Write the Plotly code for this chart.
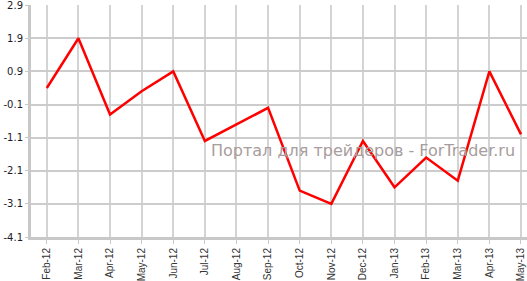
import plotly.graph_objects as go

months = ["Feb-12", "Mar-12", "Apr-12", "May-12", "Jun-12", "Jul-12", "Aug-12", "Sep-12",
          "Oct-12", "Nov-12", "Dec-12", "Jan-13", "Feb-13", "Mar-13", "Apr-13", "May-13"]
values = [0.4, 1.9, -0.4, 0.3, 0.9, -1.2, -0.7, -0.2,
          -2.7, -3.1, -1.2, -2.6, -1.7, -2.4, 0.9, -1.0]
y_ticks = [-4.1, -3.1, -2.1, -1.1, -0.1, 0.9, 1.9, 2.9]
watermark = "Портал для трейдеров - ForTrader.ru"

fig = go.Figure()
fig.add_trace(go.Scatter(x=list(range(len(months))), y=values, mode="lines",
                         line=dict(color="#ff0000", width=2.5), hoverinfo="skip"))

fig.update_layout(
    width=527, height=281,
    margin=dict(l=31, r=0, t=3, b=42),
    paper_bgcolor="white", plot_bgcolor="white",
    showlegend=False,
    font=dict(family="DejaVu Sans", size=10, color="#1a1a2a"),
    xaxis=dict(
        tickmode="array", tickvals=list(range(len(months))), ticktext=months,
        range=[-0.5, 15.19], tickangle=-90,
        tickfont=dict(family="Liberation Sans", size=10, color="#333333"),
        showgrid=True, gridcolor="#d4d4d4", gridwidth=1.5,
        showline=True, linecolor="#c8c8c8", linewidth=3,
        ticks="outside", ticklen=4, tickcolor="#c8c8c8",
        zeroline=False, fixedrange=True,
    ),
    yaxis=dict(
        tickmode="array", tickvals=y_ticks, ticktext=[f"{v:.1f}" for v in y_ticks],
        range=[-4.1, 2.905], ticklabeloverflow="allow",
        showgrid=True, gridcolor="#cccccc", gridwidth=1.5,
        showline=True, linecolor="#c8c8c8", linewidth=3,
        ticks="outside", ticklen=3, tickcolor="#c8c8c8",
        zeroline=False, fixedrange=True,
    ),
    annotations=[dict(
        text=watermark, xref="paper", yref="paper", x=0.67, y=0.375,
        xanchor="center", yanchor="middle", showarrow=False,
        font=dict(family="DejaVu Sans", size=16, color="#a89c9c"),
    )],
)

fig.write_html("out.html")
